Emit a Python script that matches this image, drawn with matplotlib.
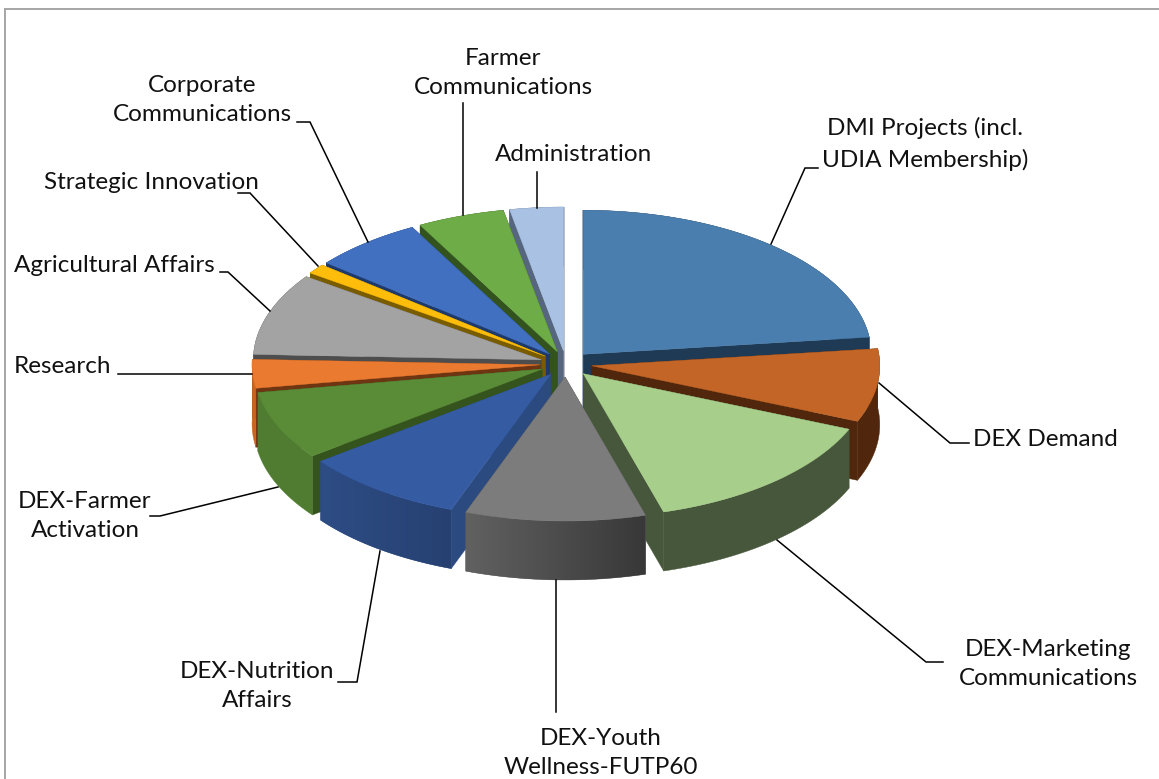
import matplotlib
matplotlib.use('Agg')

import matplotlib.pyplot as plt
from matplotlib.colors import LinearSegmentedColormap
from matplotlib.patches import Polygon
import numpy as np

labels = ['DMI Projects (incl.\nUDIA Membership)', 'DEX Demand', 'DEX-Marketing\nCommunications',
	'DEX-Youth\nWellness-FUTP60', 'DEX-Nutrition\nAffairs', 'DEX-Farmer\nActivation', 'Research',
	'Agricultural Affairs', 'Strategic Innovation', 'Corporate\nCommunications',
	'Farmer\nCommunications', 'Administration']
shares = [23.1, 8.2, 14.2, 10.1, 9.1, 7.7, 3.2, 9.2, 1.1, 6.2, 4.9, 3.0]

top_colors = ['#4a7eae', '#c26526', '#a7cf8b', '#7c7c7c', '#355ca3', '#5a8c37',
	'#ea7a2f', '#a3a3a3', '#fdbd0a', '#4170c1', '#6eac47', '#a9c2e3']
cut_colors = ['#1e3a55', '#50270c', '#47573b', '#4d4d4d', '#2a4a80', '#35531c',
	'#6e3513', '#4d4d4d', '#7a5c00', '#1e3a6a', '#33531e', '#56667e']
wall_left = ['#1e3a55', '#50270c', '#47573b', '#616161', '#2e4d85', '#4f7c30',
	'#c9641f', '#4d4d4d', '#7a5c00', '#1e3a6a', '#33531e', '#56667e']
wall_right = ['#1e3a55', '#50270c', '#47573b', '#383838', '#264071', '#4f7c30',
	'#c9641f', '#4d4d4d', '#7a5c00', '#1e3a6a', '#33531e', '#56667e']

# pie geometry, in pixels of the picture
cx, cy = 566, 364
rx, ry = 288, 144
ex, ey = 26, 13
depth = 59

# text anchor of each label: x, y, horizontal alignment
label_pos = [(925, 144, 'center'), (973, 439, 'left'), (1048, 664, 'center'),
	(601, 753, 'center'), (257, 686, 'center'), (85, 516, 'center'), (14, 366, 'left'),
	(14, 266, 'left'), (44, 182, 'left'), (202, 100, 'center'), (503, 73, 'center'),
	(495, 154, 'left')]

leaders = [[(771, 244), (805, 168), (818, 168)],
	[(879, 383), (950, 443), (969, 443)],
	[(777, 540), (926, 662), (943, 662)],
	[(556, 580), (556, 712)],
	[(380, 551), (357, 682), (338, 682)],
	[(278, 487), (160, 516), (150, 516)],
	[(252, 374), (118, 374)],
	[(270, 311), (228, 272), (220, 272)],
	[(318, 266), (250, 193), (238, 193)],
	[(368, 242), (310, 122), (297, 122)],
	[(463, 215), (463, 103)],
	[(537, 208), (537, 172)]]

plt.rcParams['font.family'] = ['Lato', 'DejaVu Sans']

fig = plt.figure(figsize=(11.59, 7.79), dpi=100)
ax = fig.add_axes([0, 0, 1, 1])
ax.axis('off')

# chart frame
ax.plot([5, 5], [779, 9], color='#a6a6a6', lw=1.4)
ax.plot([5, 1159], [9, 9], color='#a6a6a6', lw=1.4)

edges = np.radians(np.cumsum([0] + shares) / sum(shares) * 360)
mids = (edges[:-1] + edges[1:]) / 2

# back slices first, so the nearer ones paint over them
z = 3
for i in np.argsort(-np.cos(mids)):
	ax0 = cx + ex * np.sin(mids[i])
	ay0 = cy - ey * np.cos(mids[i])
	t = np.linspace(edges[i], edges[i + 1], 60)
	xs = ax0 + rx * np.sin(t)
	ys = ay0 - ry * np.cos(t)

	# cut faces
	for k in (0, -1):
		ax.add_patch(Polygon([(ax0, ay0), (xs[k], ys[k]), (xs[k], ys[k] + depth), (ax0, ay0 + depth)],
			facecolor=cut_colors[i], edgecolor=cut_colors[i], lw=0.3, zorder=z))

	# outer wall, shaded from left to right across the slice
	wall = Polygon(np.column_stack([np.r_[xs, xs[::-1]], np.r_[ys, ys[::-1] + depth]]),
		facecolor=wall_left[i], edgecolor=wall_left[i], lw=0.3, zorder=z + 1)
	ax.add_patch(wall)
	if wall_left[i] != wall_right[i]:
		cmap = LinearSegmentedColormap.from_list('wall', [wall_left[i], wall_right[i]])
		grad = ax.imshow(np.linspace(0, 1, 256).reshape(1, -1), cmap=cmap, aspect='auto', zorder=z + 2,
			extent=(xs.min(), xs.max(), ys.max() + depth, ys.min()))
		grad.set_clip_path(wall)

	ax.add_patch(Polygon(np.column_stack([np.r_[ax0, xs], np.r_[ay0, ys]]),
		facecolor=top_colors[i], edgecolor=top_colors[i], lw=0.3, zorder=z + 3))
	z += 4

ax.set_xlim(0, 1159)
ax.set_ylim(779, 0)

for pts in leaders:
	ax.plot([p[0] for p in pts], [p[1] for p in pts], color='black', lw=1.1, solid_joinstyle='miter', zorder=z)

for label, (x, y, ha) in zip(labels, label_pos):
	ax.text(x, y, label, ha=ha, va='center', fontsize=17.5, color='#111111', linespacing=1.52,
		multialignment='center', zorder=z)

plt.savefig('out.png', dpi=100)
